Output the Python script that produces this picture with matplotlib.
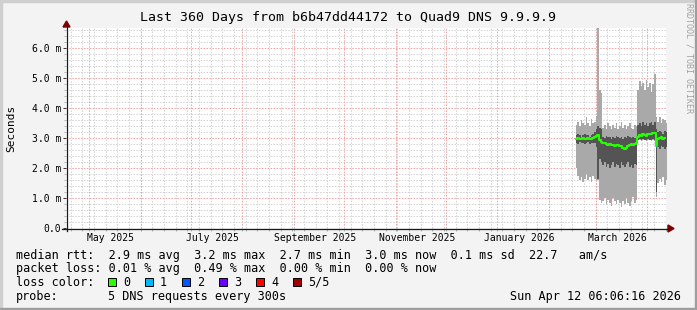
import datetime as dt
import matplotlib
matplotlib.use("Agg")
import matplotlib.pyplot as plt
import matplotlib.dates as mdates
from matplotlib.patches import Rectangle, Polygon
import numpy as np

# time range of the graph
end_time = dt.datetime(2026, 4, 12, 6, 6, 16)
start_time = end_time - dt.timedelta(days=360)
first_day = dt.datetime(2026, 2, 17)   # first day with data

# daily round trip times in ms (5 pings: min / 2nd / median / 4th / max)
rtt_max = [3.45, 3.55, 3.4, 3.6, 3.5, 3.45, 3.7, 3.5, 3.4, 3.65, 3.5, 3.55, 3.75,
           6.7, 4.6, 4.5,
           3.35, 3.45, 3.3, 3.5, 3.4, 3.3, 3.45, 3.35, 3.5, 3.3, 3.4, 3.55, 3.35, 3.45,
           3.3, 3.4, 3.5, 3.35, 3.3, 3.45, 3.4,
           4.6, 4.9, 4.75, 4.85, 4.6, 4.95, 4.7, 4.85, 4.55, 4.8,
           5.15, 3.7,
           3.55, 3.7, 3.5, 3.65, 3.6, 3.5]
rtt_hi = [3.1, 3.15, 3.1, 3.05, 3.1, 3.15, 3.1, 3.1, 3.05, 3.1, 3.15, 3.2, 3.3,
          3.4, 3.35, 3.3,
          3.05, 3.0, 3.08, 3.02, 3.05, 2.98, 3.05, 3.0, 3.08, 3.02, 3.0, 3.05, 2.98, 3.03,
          3.0, 3.06, 3.02, 3.0, 3.05, 3.0, 3.08,
          3.45, 3.5, 3.4, 3.55, 3.45, 3.5, 3.4, 3.5, 3.55, 3.45,
          3.55, 3.3,
          3.2, 3.25, 3.2, 3.15, 3.25, 3.2]
rtt_median = [2.97, 3.0, 2.98, 2.97, 2.99, 2.96, 2.98, 3.0, 2.97, 2.98, 3.0, 3.02, 3.08,
              3.1, 2.92, 2.88,
              2.85, 2.82, 2.8, 2.78, 2.8, 2.76, 2.78, 2.74, 2.76, 2.78, 2.72, 2.75, 2.68, 2.62,
              2.68, 2.74, 2.78, 2.8, 2.76, 2.79, 2.82,
              3.05, 3.1, 3.08, 3.12, 3.1, 3.08, 3.12, 3.15, 3.13, 3.18,
              3.18, 2.75,
              2.98, 3.0, 3.02, 2.98, 3.0, 3.0]
rtt_lo = [2.85, 2.8, 2.87, 2.82, 2.85, 2.8, 2.83, 2.86, 2.8, 2.84, 2.85, 2.82, 2.7,
          1.65, 2.3, 2.2,
          2.1, 2.2, 2.05, 2.15, 2.0, 2.1, 2.2, 2.05, 2.15, 2.1, 2.0, 2.2, 2.1, 2.05,
          2.15, 2.2, 2.05, 2.1, 2.0, 2.15, 2.1,
          2.95, 2.97, 2.93, 2.96, 2.95, 2.94, 2.97, 2.95, 2.93, 2.96,
          2.95, 1.2,
          2.7, 2.65, 2.75, 2.7, 2.65, 2.7]
rtt_min = [2.0, 1.75, 1.6, 1.7, 1.55, 1.65, 1.8, 1.6, 1.7, 1.55, 1.75, 1.65, 1.6,
           1.6, 0.95, 0.85,
           0.9, 1.0, 0.8, 0.95, 0.85, 0.75, 1.0, 0.9, 0.8, 0.95, 0.85, 0.7, 0.9, 0.8,
           1.0, 0.85, 0.75, 0.9, 1.05, 0.85, 0.95,
           2.92, 2.93, 2.9, 2.92, 2.93, 2.9, 2.93, 2.92, 2.9, 2.93,
           2.9, 1.05,
           1.5, 1.65, 1.55, 1.7, 1.45, 1.6]
# lost pings per day
loss = [0] * 48 + [1] + [0] * 6

loss_labels = ["0", "1", "2", "3", "4", "5/5"]
loss_colors = ["#26ff00", "#00b8ff", "#0059ff", "#6a00ff", "#ff0000", "#a00000"]

ytick_vals = [0, 1, 2, 3, 4, 5, 6]
ytick_labels = ["0.0", "1.0 m", "2.0 m", "3.0 m", "4.0 m", "5.0 m", "6.0 m"]
xlabel_months = [(2025, 5), (2025, 7), (2025, 9), (2025, 11), (2026, 1), (2026, 3)]

rtt_stats = {"avg": 2.9, "max": 3.2, "min": 2.7, "now": 3.0, "sd": 0.1}
am_s = 22.7
loss_stats = {"avg": 0.01, "max": 0.49, "min": 0.00, "now": 0.00}

title = "Last 360 Days from b6b47dd44172 to Quad9 DNS 9.9.9.9"
probe = "5 DNS requests every 300s"
stamp = "Sun Apr 12 06:06:16 2026"

mono = "DejaVu Sans Mono"
W, H = 697, 310

fig = plt.figure(figsize=(W / 100, H / 100), dpi=100, facecolor="#f3f3f3")
ax = fig.add_axes([66 / W, 1 - 228 / H, 600 / W, 200 / H])
ax.set_facecolor("white")

# smoke + median
x0 = mdates.date2num(first_day)
xs = x0 + np.arange(len(rtt_median) + 1)

def ext(v):
    return np.append(v, v[-1])

ax.fill_between(xs, ext(rtt_min), ext(rtt_max), step="post", color="#a9a9a9", lw=0, zorder=3)
ax.fill_between(xs, ext(rtt_lo), ext(rtt_hi), step="post", color="#545454", lw=0, zorder=3.2)
ax.step(xs, ext(rtt_median), where="post", color=loss_colors[0], lw=1.5, zorder=4)
for i, l in enumerate(loss):
    if l:
        ax.plot([xs[i], xs[i + 1]], [rtt_median[i]] * 2, color=loss_colors[l], lw=2,
                solid_capstyle="butt", zorder=4.5)

# grid (below the smoke)
months = []
d = dt.datetime(start_time.year, start_time.month, 1)
while d < end_time:
    if d > start_time:
        months.append(d)
    d = dt.datetime(d.year + (d.month == 12), d.month % 12 + 1, 1)
weeks = []
d = dt.datetime(start_time.year, start_time.month, start_time.day)
d += dt.timedelta(days=(6 - d.weekday()) % 7)
while d < end_time:
    weeks.append(d)
    d += dt.timedelta(days=7)

minor_grid = dict(color="#d2d2d2", lw=0.7, ls=(0, (1.5, 1.5)), zorder=1)
major_grid = dict(color="#f5a0a0", lw=0.7, ls=(0, (1.5, 1.5)), zorder=1.5)
for w in weeks:
    ax.axvline(mdates.date2num(w), **minor_grid)
for v in np.arange(0.2, 6.7, 0.2):
    if abs(v - round(v)) > 0.01:
        ax.axhline(v, **minor_grid)
for m in months:
    ax.axvline(mdates.date2num(m), **major_grid)
for v in ytick_vals[1:]:
    ax.axhline(v, **major_grid)

ax.set_xlim(mdates.date2num(start_time), mdates.date2num(end_time))
ax.set_ylim(0, 20 / 3)
for s in ax.spines.values():
    s.set_visible(False)

ax.set_yticks(ytick_vals)
ax.set_yticklabels(ytick_labels, family=mono, fontsize=7)
ax.set_yticks(np.arange(0.2, 6.7, 0.2), minor=True)
ax.tick_params(axis="y", which="major", length=2, width=0.7, color="#333333", pad=1.5)
ax.tick_params(axis="y", which="minor", length=1.5, width=0.6, color="#aaaaaa")

ax.set_xticks([mdates.date2num(dt.datetime(y, m, 14)) for y, m in xlabel_months])
ax.set_xticklabels([dt.datetime(y, m, 1).strftime("%B %Y") for y, m in xlabel_months],
                   family=mono, fontsize=7)
ax.set_xticks([mdates.date2num(w) for w in weeks + months], minor=True)
ax.tick_params(axis="x", which="major", length=0, pad=3.5)
ax.tick_params(axis="x", which="minor", length=2, width=0.6, color="#aaaaaa")

# overlay in pixel coordinates
ov = fig.add_axes([0, 0, 1, 1], zorder=5)
ov.set_xlim(0, W)
ov.set_ylim(H, 0)
ov.axis("off")

ov.plot([62, 669], [228.5, 228.5], color="#1a1a1a", lw=0.9)
ov.plot([66.5, 66.5], [231, 25], color="#1a1a1a", lw=0.9)
ov.add_patch(Polygon([[668, 225], [668, 232], [674, 228.5]], color="#800000"))
ov.add_patch(Polygon([[63, 27], [70, 27], [66.5, 21]], color="#800000"))

ov.add_patch(Rectangle((0, 0), W, 2, color="#cfcfcf"))
ov.add_patch(Rectangle((0, 0), 2, H, color="#cfcfcf"))
ov.add_patch(Rectangle((0, H - 2), W, 2, color="#9e9e9e"))
ov.add_patch(Rectangle((W - 2, 0), 2, H, color="#9e9e9e"))

ov.text(W / 2, 18, title, ha="center", va="center", fontsize=9.5, family=mono)
ov.text(11, 128, "Seconds", rotation=90, ha="center", va="center", fontsize=8, family=mono)
ov.text(689, 58, "RRDTOOL / TOBI OETIKER", rotation=270, ha="center", va="center",
        fontsize=6, family=mono, color="#a0a0a0")

r = rtt_stats
row1 = (f"median rtt:  {r['avg']:.1f} ms avg  {r['max']:.1f} ms max  {r['min']:.1f} ms min  "
        f"{r['now']:.1f} ms now  {r['sd']:.1f} ms sd  {am_s:.1f}   am/s")
p = loss_stats
row2 = (f"packet loss: {p['avg']:.2f} % avg  {p['max']:.2f} % max  "
        f"{p['min']:.2f} % min  {p['now']:.2f} % now")
ov.text(16, 255, row1, va="center", fontsize=8.5, family=mono)
ov.text(16, 268.5, row2, va="center", fontsize=8.5, family=mono)
ov.text(16, 282, "loss color:", va="center", fontsize=8.5, family=mono)
box_x = [108, 145, 182, 219, 256, 293]
for bx, lab, col in zip(box_x, loss_labels, loss_colors):
    ov.add_patch(Rectangle((bx, 278), 8, 8, facecolor=col, edgecolor="black", lw=0.7))
    ov.text(bx + 15, 282, lab, va="center", fontsize=8.5, family=mono)
ov.text(16, 296.5, "probe:", va="center", fontsize=8.5, family=mono)
ov.text(107.5, 296.5, probe, va="center", fontsize=8.5, family=mono)
ov.text(681, 296.5, stamp, ha="right", va="center", fontsize=8.5, family=mono)

fig.savefig("out.png", dpi=100, facecolor=fig.get_facecolor())
